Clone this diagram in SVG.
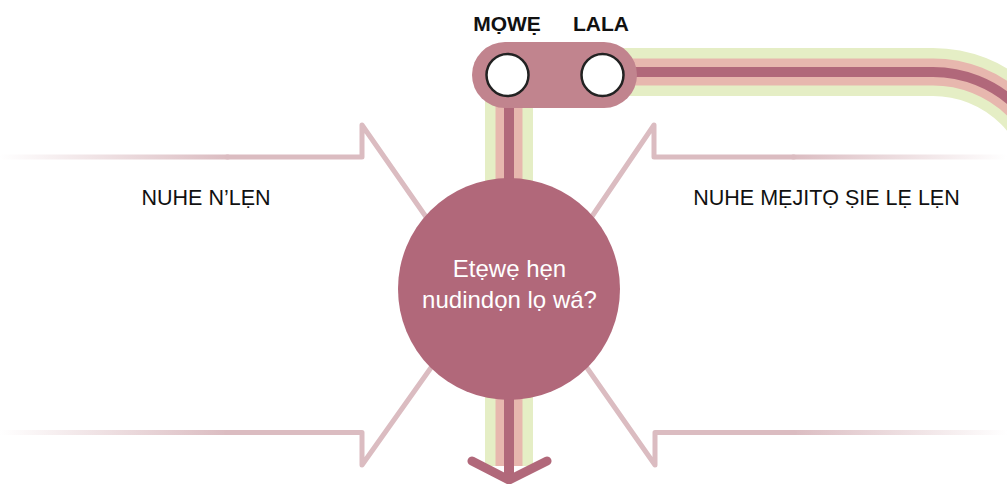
<svg xmlns="http://www.w3.org/2000/svg" width="1007" height="484" viewBox="0 0 1007 484">
<style>
.track{fill:none;stroke-linejoin:round}
.g{stroke:#e5eec5;stroke-width:48}
.p{stroke:#e7b7ae;stroke-width:27}
.d{stroke:#b1687a;stroke-width:10}
.arr{fill:none;stroke-width:5;stroke-linejoin:round;stroke-linecap:round}
.lbl{font-family:"Liberation Sans",Arial,sans-serif;font-size:21.5px;fill:#111;text-anchor:middle}
.stop{font-family:"Liberation Sans",Arial,sans-serif;font-size:21px;font-weight:bold;fill:#111;text-anchor:middle}
.ctr{font-family:"Liberation Sans",Arial,sans-serif;font-size:24px;fill:#fff;text-anchor:middle}
</style>
<defs>
<linearGradient id="fadeL" gradientUnits="userSpaceOnUse" x1="0" y1="0" x2="228" y2="0">
<stop offset="0" stop-color="#dbbcc1" stop-opacity="0"/>
<stop offset="1" stop-color="#dbbcc1" stop-opacity="1"/>
</linearGradient>
<linearGradient id="fadeR" gradientUnits="userSpaceOnUse" x1="792" y1="0" x2="1007" y2="0">
<stop offset="0" stop-color="#dbbcc1" stop-opacity="1"/>
<stop offset="1" stop-color="#dbbcc1" stop-opacity="0"/>
</linearGradient>
</defs>
<g id="connectors">
<path class="track g" d="M509 466 L509 72 L933 72 A120 120 0 0 1 1053 192 L1053 520"/>
<path class="track p" d="M509 466 L509 72 L933 72 A120 120 0 0 1 1053 192 L1053 520"/>
<path class="track d" d="M509 478 L509 72 L933 72 A120 120 0 0 1 1053 192 L1053 520"/>
<path d="M472 461 L509 480 L547 461" fill="none" stroke="#b1687a" stroke-width="9" stroke-linecap="round" stroke-linejoin="round"/>
<g id="arrow-tl">
<path class="arr" stroke="url(#fadeL)" d="M0 157 L228 157"/>
<path class="arr" stroke="#dbbcc1" d="M227 157 L362 157 L362 125 L440 237"/>
</g>
<g id="arrow-bl">
<path class="arr" stroke="url(#fadeL)" d="M0 432.5 L228 432.5"/>
<path class="arr" stroke="#dbbcc1" d="M227 432.5 L362 432.5 L362 465 L440 355"/>
</g>
<g id="arrow-tr">
<path class="arr" stroke="url(#fadeR)" d="M793 157 L1007 157"/>
<path class="arr" stroke="#dbbcc1" d="M794 157 L654 157 L654 125 L578 237"/>
</g>
<g id="arrow-br">
<path class="arr" stroke="url(#fadeR)" d="M793 432.5 L1007 432.5"/>
<path class="arr" stroke="#dbbcc1" d="M794 432.5 L655 432.5 L655 465 L578 355"/>
</g>
</g>
<g id="station">
<rect x="472" y="42" width="165" height="66" rx="33" fill="#c1848e"/>
<circle cx="507.5" cy="75" r="21" fill="#fff" stroke="#222" stroke-width="2.5"/>
<circle cx="602.5" cy="75" r="21" fill="#fff" stroke="#222" stroke-width="2.5"/>
<text class="stop" x="507" y="31">MỌWẸ</text>
<text class="stop" x="601" y="31">LALA</text>
</g>
<g id="question">
<circle cx="509" cy="289" r="111" fill="#b1687a"/>
<text class="ctr" x="509.5" y="277">Etẹwẹ hẹn</text>
<text class="ctr" x="509.5" y="308">nudindọn lọ wá?</text>
</g>
<g id="label-left">
<text class="lbl" x="206" y="205">NUHE N’LẸN</text>
</g>
<g id="label-right">
<text class="lbl" x="826.5" y="205">NUHE MẸJITỌ ṢIE LẸ LẸN</text>
</g>
</svg>
